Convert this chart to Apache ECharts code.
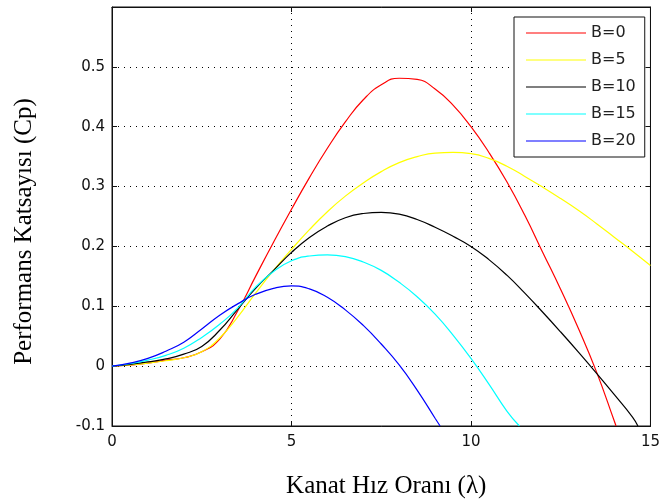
<!DOCTYPE html>
<html>
<head>
<meta charset="utf-8">
<script src="https://cdn.jsdelivr.net/npm/echarts@6/dist/echarts.min.js"></script>
<style>
  html, body { margin: 0; padding: 0; background: #fff; }
  #chart { width: 663px; height: 504px; }
</style>
</head>
<body>
<div id="chart"></div>
<script>
// tip speed ratio, step 0.5
var lambda = [0, 0.5, 1, 1.5, 2, 2.5, 3, 3.5, 4, 4.5, 5, 5.5, 6, 6.5, 7, 7.5,
  8, 8.5, 9, 9.5, 10, 10.5, 11, 11.5, 12, 12.5, 13, 13.5, 14, 14.5, 15]

// Cp values for each pitch angle
var cpB0 = [0, 0.002, 0.005, 0.01, 0.014, 0.024, 0.045, 0.092, 0.15, 0.207, 0.262, 0.315,
  0.364, 0.408, 0.445, 0.47, 0.481, 0.479, 0.463, 0.436, 0.4, 0.357, 0.308, 0.252,
  0.19, 0.128, 0.062, -0.01, -0.093]
var cpB5 = [0, 0.002, 0.005, 0.009, 0.014, 0.024, 0.047, 0.082, 0.122, 0.16, 0.195, 0.228,
  0.258, 0.284, 0.306, 0.325, 0.34, 0.35, 0.356, 0.357, 0.355, 0.347, 0.334, 0.317,
  0.299, 0.28, 0.26, 0.238, 0.215, 0.192, 0.168]
var cpB10 = [0, 0.003, 0.007, 0.012, 0.02, 0.033, 0.06, 0.095, 0.13, 0.16, 0.19, 0.215,
  0.234, 0.248, 0.255, 0.257, 0.254, 0.245, 0.232, 0.217, 0.2, 0.178, 0.152, 0.122,
  0.09, 0.057, 0.023, -0.012, -0.048, -0.085]
var cpB15 = [0, 0.004, 0.01, 0.018, 0.03, 0.048, 0.07, 0.097, 0.132, 0.158, 0.176, 0.184,
  0.186, 0.183, 0.174, 0.16, 0.14, 0.116, 0.087, 0.052, 0.013, -0.03, -0.075]
var cpB20 = [0, 0.005, 0.013, 0.025, 0.04, 0.062, 0.085, 0.104, 0.12, 0.13, 0.134, 0.129,
  0.115, 0.094, 0.068, 0.037, 0.002, -0.04, -0.087]

// lambda where each curve leaves the bottom of the plot (Cp = -0.1)
var endLambda = [14.04, null, 14.65, 11.35, 9.14]

var names = ['B=0', 'B=5', 'B=10', 'B=15', 'B=20']
var colors = ['#ff0000', '#ffff00', '#000000', '#00ffff', '#0000ff']

function pairs(vals, endX) {
  var d = vals.map(function(v, i) { return [lambda[i], v] })
  if (endX != null) d.push([endX, -0.1])
  return d
}

var chart = echarts.init(document.getElementById('chart'))

var gridLine = { show: true, lineStyle: { color: '#000', type: [1, 5], width: 1 } }
var frameLine = { show: true, onZero: false, lineStyle: { color: '#111', width: 1 } }
var tick = { show: true, inside: true, length: 5, lineStyle: { color: '#111' } }
var tickFont = { color: '#111', fontFamily: 'DejaVu Sans', fontSize: 15 }

chart.setOption({
  animation: false,
  backgroundColor: '#fff',
  grid: { left: 112, right: 8, top: 7, bottom: 75, show: true, borderColor: '#111', borderWidth: 1 },
  legend: {
    orient: 'vertical',
    left: 514,
    top: 17,
    padding: [8, 9, 8, 12],
    icon: 'path://M0,0H60V1H0Z',
    itemWidth: 60,
    itemHeight: 14,
    itemGap: 11,
    backgroundColor: '#fff',
    borderColor: '#111',
    borderWidth: 1,
    borderRadius: 0,
    textStyle: { color: '#222', fontFamily: 'DejaVu Sans', fontSize: 16 },
    data: names
  },
  xAxis: [{
    type: 'value',
    min: 0,
    max: 15,
    interval: 5,
    axisLine: frameLine,
    axisTick: tick,
    splitLine: gridLine,
    axisLabel: Object.assign({ margin: 9 }, tickFont),
    name: 'Kanat Hız Oranı (λ)',
    nameLocation: 'middle',
    nameGap: 48,
    nameTextStyle: { color: '#000', fontFamily: 'Liberation Serif', fontSize: 25, padding: [0, 0, 0, 10] }
  }, {
    type: 'value',
    position: 'top',
    min: 0,
    max: 15,
    interval: 5,
    axisLine: frameLine,
    axisTick: tick,
    splitLine: { show: false },
    axisLabel: { show: false }
  }],
  yAxis: [{
    type: 'value',
    min: -0.1,
    max: 0.6,
    interval: 0.1,
    axisLine: frameLine,
    axisTick: tick,
    splitLine: gridLine,
    axisLabel: Object.assign({
      margin: 7,
      formatter: function(v) {
        if (v > 0.55) return ''
        return String(+v.toFixed(1))
      }
    }, tickFont),
    name: 'Performans Katsayısı (Cp)',
    nameLocation: 'middle',
    nameGap: 75,
    nameTextStyle: { color: '#000', fontFamily: 'Liberation Serif', fontSize: 25, padding: [0, 30, 0, 0] }
  }, {
    type: 'value',
    position: 'right',
    min: -0.1,
    max: 0.6,
    interval: 0.1,
    axisLine: frameLine,
    axisTick: tick,
    splitLine: { show: false },
    axisLabel: { show: false }
  }],
  series: [cpB0, cpB5, cpB10, cpB15, cpB20].map(function(vals, k) {
    return {
      name: names[k],
      type: 'line',
      symbol: 'none',
      smooth: 0.5,
      clip: true,
      color: colors[k],
      lineStyle: { color: colors[k], width: 1.2 },
      data: pairs(vals, endLambda[k])
    }
  })
})
</script>
</body>
</html>
